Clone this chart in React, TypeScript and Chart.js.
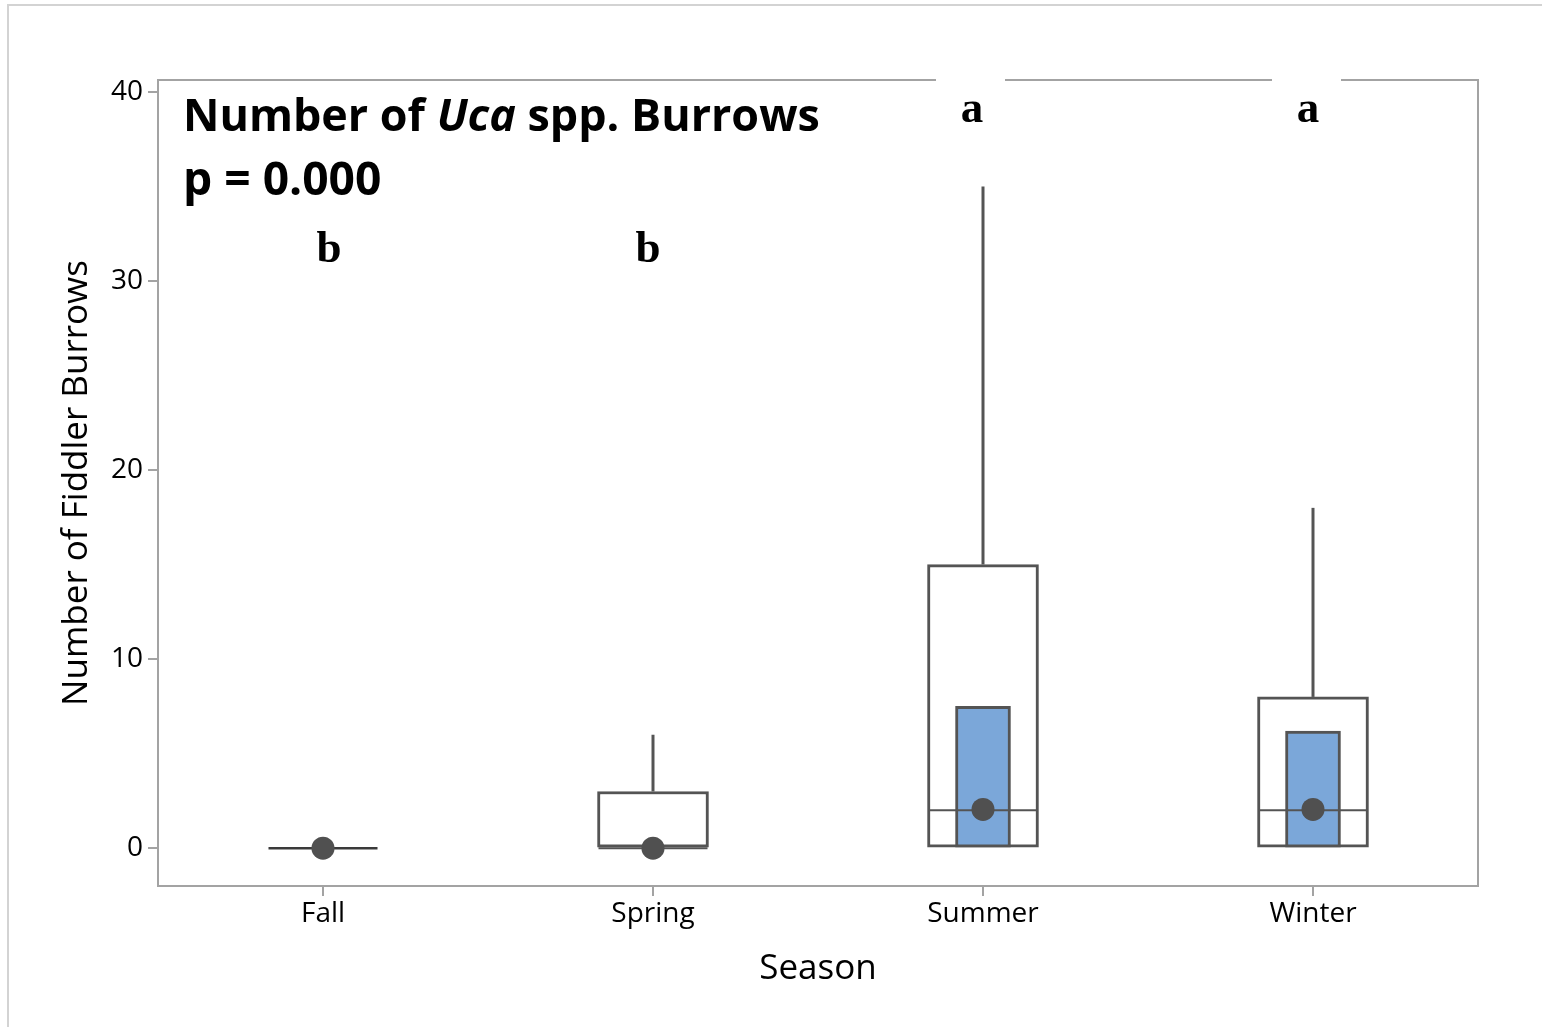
import React, { useEffect, useRef } from "react";
import { Chart, registerables } from "chart.js";

Chart.register(...registerables);

// ---------- data ----------
const categories = ["Fall", "Spring", "Summer", "Winter"];
const q1Values = [0, 0, 0, 0];
const medianValues = [0, 0, 2, 2];
const q3Values = [0, 3, 15, 8];
const whiskerMaxValues = [0, 6, 35, 18];
const ciLowValues: (number | null)[] = [null, null, 0, 0];
const ciHighValues: (number | null)[] = [null, null, 7.5, 6.2];
const dotValues = [0, 0, 2.05, 2.05];
const groupLetters = ["b", "b", "a", "a"];
const letterBaselineValues = [31.0, 31.0, 38.4, 38.4];
const yTickStep = 10;
const yMin = -2;
const yMax = 40.63;

const titleParts = [
  { text: "Number of ", italic: false },
  { text: "Uca", italic: true },
  { text: " spp. Burrows", italic: false },
];
const titleLine2 = "p = 0.000";
const yAxisTitle = "Number of Fiddler Burrows";
const xAxisTitle = "Season";

// ---------- style ----------
const AXIS_GRAY = "#a3a3a3";
const BOX_GRAY = "#545454";
const DOT_GRAY = "#505050";
const CI_BLUE = "#7ba7d9";
const SANS = "'Open Sans', 'Noto Sans', sans-serif";
const SERIF = "'Liberation Serif', 'DejaVu Serif', serif";
const letterNudgePx = [6, -5, -11, -5];

const extrasPlugin = {
  id: "boxExtras",
  beforeDraw(chart: any) {
    const ctx = chart.ctx;
    ctx.save();
    ctx.fillStyle = "#ffffff";
    ctx.fillRect(0, 0, chart.width, chart.height);
    ctx.strokeStyle = "#d3d3d3";
    ctx.lineWidth = 2;
    ctx.beginPath();
    ctx.moveTo(8, chart.height);
    ctx.lineTo(8, 5);
    ctx.lineTo(chart.width, 5);
    ctx.stroke();
    ctx.restore();
  },
  beforeDatasetsDraw(chart: any) {
    const { ctx, chartArea } = chart;
    ctx.save();
    ctx.strokeStyle = AXIS_GRAY;
    ctx.lineWidth = 2;
    ctx.strokeRect(
      chartArea.left,
      chartArea.top,
      chartArea.right - chartArea.left,
      chartArea.bottom - chartArea.top
    );
    ctx.restore();
  },
  afterDatasetDraw(chart: any, args: any) {
    if (args.index !== 1) return;
    const { ctx } = chart;
    const y = chart.scales.y;
    const boxMeta = chart.getDatasetMeta(0);
    ctx.save();
    ctx.strokeStyle = BOX_GRAY;
    ctx.lineWidth = 3;
    categories.forEach((_, i) => {
      const el = boxMeta.data[i];
      const cx = el.x;
      const half = el.width / 2;
      if (whiskerMaxValues[i] > q3Values[i]) {
        ctx.beginPath();
        ctx.moveTo(cx, y.getPixelForValue(q3Values[i]));
        ctx.lineTo(cx, y.getPixelForValue(whiskerMaxValues[i]));
        ctx.stroke();
      }
      const my = y.getPixelForValue(medianValues[i]);
      ctx.lineWidth = q3Values[i] === q1Values[i] ? 2.5 : 2;
      ctx.strokeStyle = q3Values[i] === q1Values[i] ? "#3a3a3a" : BOX_GRAY;
      ctx.beginPath();
      ctx.moveTo(cx - half + 1, my);
      ctx.lineTo(cx + half - 1, my);
      ctx.stroke();
      ctx.strokeStyle = BOX_GRAY;
      ctx.lineWidth = 3;
    });
    ctx.restore();
  },
  afterDraw(chart: any) {
    const { ctx, chartArea } = chart;
    const x = chart.scales.x;
    const y = chart.scales.y;
    ctx.save();
    ctx.font = `bold 45px ${SERIF}`;
    ctx.textAlign = "center";
    ctx.textBaseline = "alphabetic";
    groupLetters.forEach((letter, i) => {
      const lx = x.getPixelForValue(i) + letterNudgePx[i];
      const ly = y.getPixelForValue(letterBaselineValues[i]);
      ctx.fillStyle = "#ffffff";
      ctx.fillRect(lx - 36, ly - 60, 69, 68);
      ctx.fillStyle = "#000000";
      ctx.fillText(letter, lx, ly);
    });
    const base = 46;
    const fontFor = (italic: boolean, size: number) =>
      `${italic ? "italic " : ""}bold ${size}px ${SANS}`;
    let w = 0;
    titleParts.forEach((p) => {
      ctx.font = fontFor(p.italic, base);
      w += ctx.measureText(p.text).width;
    });
    const size = (base * 637) / w;
    let tx = chartArea.left + 25;
    ctx.textAlign = "left";
    ctx.fillStyle = "#000000";
    titleParts.forEach((p) => {
      ctx.font = fontFor(p.italic, size);
      ctx.fillText(p.text, tx, chartArea.top + 51);
      tx += ctx.measureText(p.text).width;
    });
    ctx.font = fontFor(false, size * 1.03);
    ctx.fillText(titleLine2, chartArea.left + 25, chartArea.top + 115);
    ctx.restore();
  },
};

export default function App() {
  const ref = useRef<HTMLCanvasElement | null>(null);

  useEffect(() => {
    if (!ref.current) return;
    const outerBoxes = categories.map((_, i) => [q1Values[i], q3Values[i]]);
    const ciBoxes = categories.map((_, i) =>
      ciLowValues[i] === null || ciHighValues[i] === null
        ? null
        : [ciLowValues[i], ciHighValues[i]]
    );
    const chart = new Chart(ref.current, {
      type: "bar",
      data: {
        labels: categories,
        datasets: [
          {
            type: "bar",
            data: outerBoxes as any,
            backgroundColor: "#ffffff",
            borderColor: BOX_GRAY,
            borderWidth: 3,
            borderSkipped: false,
            barThickness: 111,
            grouped: false,
            order: 3,
          } as any,
          {
            type: "bar",
            data: ciBoxes as any,
            backgroundColor: CI_BLUE,
            borderColor: BOX_GRAY,
            borderWidth: 3,
            borderSkipped: false,
            barThickness: 55,
            grouped: false,
            order: 2,
          } as any,
          {
            type: "line",
            data: dotValues,
            showLine: false,
            pointRadius: 11.5,
            pointBackgroundColor: DOT_GRAY,
            pointBorderWidth: 0,
            pointBorderColor: DOT_GRAY,
            order: 1,
          } as any,
        ],
      },
      options: {
        animation: false,
        responsive: false,
        devicePixelRatio: 1,
        layout: { padding: { top: 80, right: 64, left: 0, bottom: 0 } },
        plugins: {
          legend: { display: false },
          tooltip: { enabled: false },
        },
        scales: {
          x: {
            offset: true,
            afterFit: (s: any) => {
              s.height = 141;
            },
            ticks: {
              font: { family: SANS, size: 28, weight: "500" },
              color: "#000000",
              padding: 1,
            },
            grid: {
              offset: false,
              drawOnChartArea: false,
              drawTicks: true,
              tickLength: 10,
              color: AXIS_GRAY,
              lineWidth: 2,
            },
            border: { display: false },
            title: {
              display: true,
              text: xAxisTitle,
              font: { family: SANS, size: 35, weight: "500" },
              color: "#000000",
              padding: { top: 0, bottom: 37 },
            },
          },
          y: {
            min: yMin,
            max: yMax,
            afterFit: (s: any) => {
              s.width = 158;
            },
            ticks: {
              stepSize: yTickStep,
              includeBounds: false,
              font: { family: SANS, size: 28, weight: "500" },
              color: "#000000",
              padding: 5,
            },
            grid: {
              drawOnChartArea: false,
              drawTicks: true,
              tickLength: 10,
              color: AXIS_GRAY,
              lineWidth: 2,
            },
            border: { display: false },
            title: {
              display: true,
              text: yAxisTitle,
              font: { family: SANS, size: 35, weight: "500" },
              color: "#000000",
              padding: { top: 56, bottom: 0 },
            },
          },
        },
      } as any,
      plugins: [extrasPlugin],
    });
    return () => chart.destroy();
  }, []);

  return (
    <canvas
      ref={ref}
      width={1542}
      height={1027}
      style={{ position: "absolute", left: 0, top: 0, width: 1542, height: 1027 }}
    />
  );
}
